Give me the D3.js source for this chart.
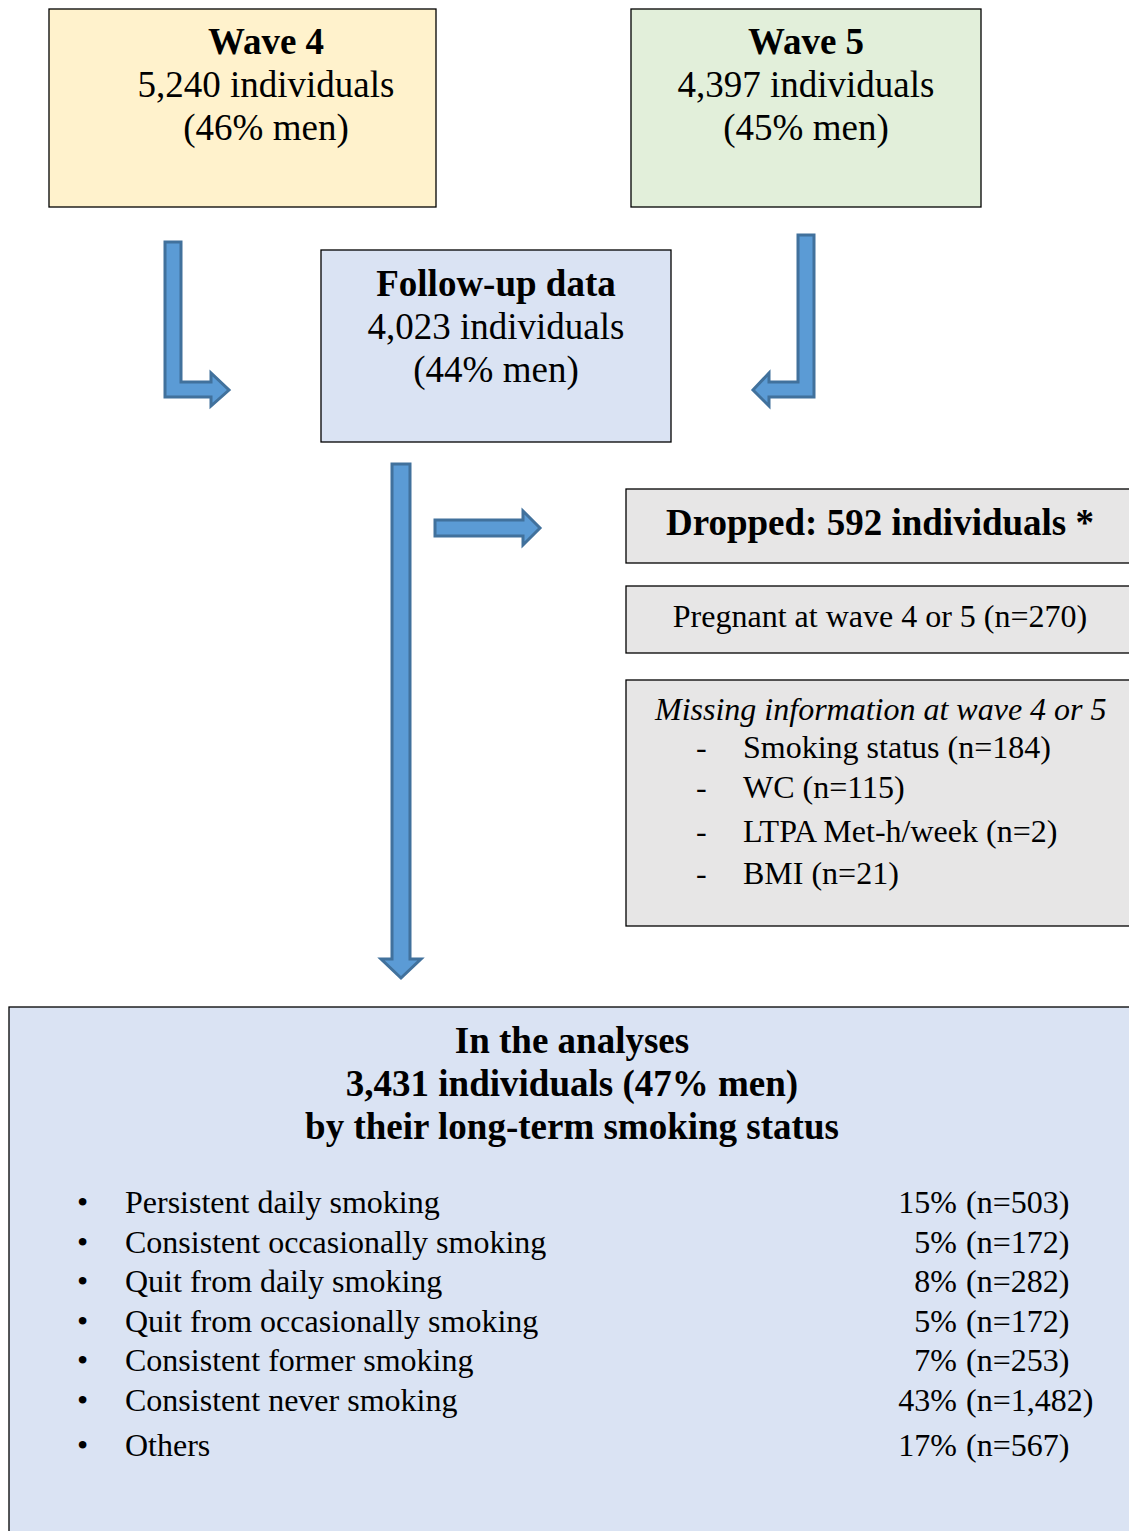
<!DOCTYPE html>
<html>
<head>
<meta charset="utf-8">
<script src="https://cdn.jsdelivr.net/npm/d3@7"></script>
<style>
  body { margin: 0; background: #fff; }
  text { font-family: "Liberation Serif", "Times New Roman", serif; fill: #000; }
</style>
</head>
<body>
<script>
// flowchart content
let waveTitles = ['Wave 4', 'Wave 5'];
let waveCounts = ['5,240 individuals', '4,397 individuals'];
let waveMen = ['(46% men)', '(45% men)'];
let followUp = ['Follow-up data', '4,023 individuals', '(44% men)'];
let droppedTitle = 'Dropped: 592 individuals *';
let pregnantText = 'Pregnant at wave 4 or 5 (n=270)';
let missingTitle = 'Missing information at wave 4 or 5';
let missingItems = ['Smoking status (n=184)', 'WC (n=115)', 'LTPA Met-h/week (n=2)', 'BMI (n=21)'];
let analysisTitle = ['In the analyses', '3,431 individuals (47% men)', 'by their long-term smoking status'];
let groups = ['Persistent daily smoking', 'Consistent occasionally smoking', 'Quit from daily smoking',
  'Quit from occasionally smoking', 'Consistent former smoking', 'Consistent never smoking', 'Others'];
let groupPct = ['15%', '5%', '8%', '5%', '7%', '43%', '17%'];
let groupN = ['(n=503)', '(n=172)', '(n=282)', '(n=172)', '(n=253)', '(n=1,482)', '(n=567)'];

let width = 1129, height = 1531;
let svg = d3.select('body').append('svg').attr('width', width).attr('height', height);

let arrowFill = '#5b9bd5', arrowStroke = '#41719c';
let big = 37, small = 32;

function box(x, y, w, h, fill) {
  return svg.append('rect').attr('x', x).attr('y', y).attr('width', w).attr('height', h)
    .attr('fill', fill).attr('stroke', '#000').attr('stroke-width', 1.3);
}

function lines(cx, y0, step, arr, size, weights) {
  arr.forEach(function (t, i) {
    svg.append('text').attr('x', cx).attr('y', y0 + i * step)
      .attr('text-anchor', 'middle').attr('font-size', size)
      .attr('font-weight', weights ? weights[i] : 'normal').text(t);
  });
}

function poly(pts) {
  svg.append('polygon').attr('points', pts.map(function (p) { return p.join(','); }).join(' '))
    .attr('fill', arrowFill).attr('stroke', arrowStroke).attr('stroke-width', 3)
    .attr('stroke-linejoin', 'miter');
}

// top boxes
let waveBoxes = [{x: 49, w: 387, fill: '#fff2cc'}, {x: 631, w: 350, fill: '#e2efda'}];
waveBoxes.forEach(function (b, i) {
  box(b.x, 9, b.w, 198, b.fill);
  let cx = [266, 806][i];
  lines(cx, 54, 43, [waveTitles[i], waveCounts[i], waveMen[i]], big, ['bold', 'normal', 'normal']);
});

// follow-up box
box(321, 250, 350, 192, '#dae3f3');
lines(496, 296, 43, followUp, big, ['bold', 'normal', 'normal']);

// bent arrows
poly([[165, 242], [181, 242], [181, 382], [211, 382], [211, 373], [229, 390], [211, 406], [211, 397], [165, 397]]);
poly([[798, 235], [814, 235], [814, 397], [769, 397], [769, 406], [753, 390], [769, 373], [769, 382], [798, 382]]);

// long down arrow
poly([[392, 464], [410, 464], [410, 959], [421, 959], [401, 978], [381, 959], [392, 959]]);

// right arrow
poly([[435, 520], [523, 520], [523, 511], [540, 528], [523, 545], [523, 536], [435, 536]]);

// dropped boxes
box(626, 489, 520, 74, '#e7e6e6');
svg.append('text').attr('x', 880).attr('y', 535).attr('text-anchor', 'middle')
  .attr('font-size', big).attr('font-weight', 'bold').text(droppedTitle);

box(626, 586, 520, 67, '#e7e6e6');
svg.append('text').attr('x', 880).attr('y', 627).attr('text-anchor', 'middle')
  .attr('font-size', small).text(pregnantText);

box(626, 680, 520, 246, '#e7e6e6');
svg.append('text').attr('x', 655).attr('y', 720).attr('font-size', small)
  .attr('font-style', 'italic').text(missingTitle);
let missY = [758, 798, 842, 884];
missingItems.forEach(function (t, i) {
  svg.append('text').attr('x', 696).attr('y', missY[i]).attr('font-size', small).text('-');
  svg.append('text').attr('x', 743).attr('y', missY[i]).attr('font-size', small).text(t);
});

// analysis box
box(9, 1007, 1140, 540, '#dae3f3');
lines(572, 1053, 43, analysisTitle, big, ['bold', 'bold', 'bold']);

let rowY = d3.scalePoint().domain(groups.slice(0, 6)).range([1213, 1411]);
groups.forEach(function (g, i) {
  let y = i < 6 ? rowY(g) : 1456;
  svg.append('text').attr('x', 77).attr('y', y).attr('font-size', small).text('•');
  svg.append('text').attr('x', 125).attr('y', y).attr('font-size', small).text(g);
  svg.append('text').attr('x', 957).attr('y', y).attr('text-anchor', 'end').attr('font-size', small).text(groupPct[i]);
  svg.append('text').attr('x', 966).attr('y', y).attr('font-size', small).text(groupN[i]);
});
</script>
</body>
</html>
